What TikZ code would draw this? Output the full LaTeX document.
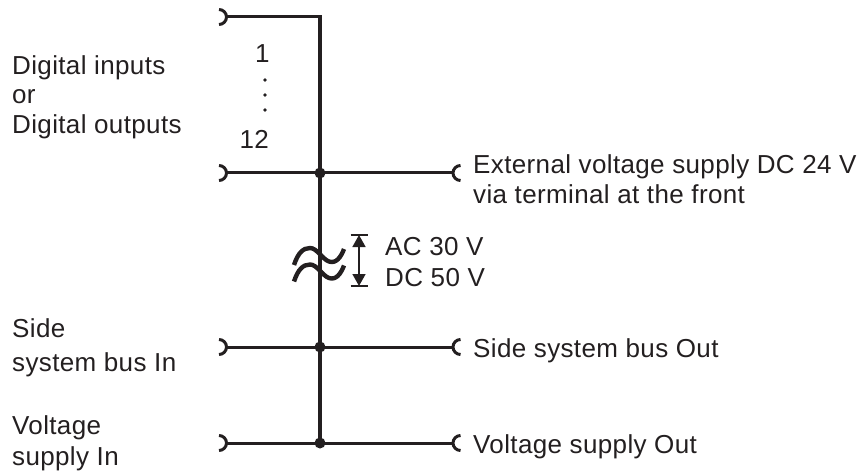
\documentclass[tikz,border=0pt]{standalone}
\usepackage{fontspec}
\setmainfont[LetterSpace=1.4]{Liberation Sans}
\usetikzlibrary{arrows.meta,calc}
\definecolor{ink}{HTML}{231F20}
\newcommand{\labfont}{\fontsize{26}{30}\selectfont}
\tikzset{
  wire/.style={line width=3pt, draw=ink, line join=miter},
  bus/.style={line width=3.6pt, draw=ink},
  sock/.style={line width=3pt, draw=ink},
  lab/.style={inner sep=0pt, anchor=base west, align=left, font=\labfont, text=ink},
  jdot/.style={circle, fill=ink, inner sep=0pt, minimum size=11pt},
  tilde/.style={line width=4.4pt, draw=ink, line cap=butt},
  dimline/.style={line width=1.6pt, draw=ink, -{Triangle[length=12pt,width=13pt]}},
  dimbar/.style={line width=2pt, draw=ink},
}
\begin{document}
\begin{tikzpicture}[x=1pt,y=-1pt]
\useasboundingbox (0,0) rectangle (861,473);
% bus coordinates
\coordinate (T)  at (320,17);
\coordinate (J1) at (320,173);
\coordinate (J2) at (320,347);
\coordinate (J3) at (320,443);
% left socket tips
\coordinate (L0) at (226.5,17);
\coordinate (L1) at (226.5,173);
\coordinate (L2) at (226.5,347);
\coordinate (L3) at (226.5,443);
% right socket tips
\coordinate (R1) at (453,173);
\coordinate (R2) at (453,347);
\coordinate (R3) at (453,443);

% wires
\draw[bus] (T) -- (J3);
\draw[wire] (L0) -- ($(T)+(1.8,0)$);
\draw[wire] (L1) -- (J1) -- (R1);
\draw[wire] (L2) -- (J2) -- (R2);
\draw[wire] (L3) -- (J3) -- (R3);

% sockets
\foreach \p in {L0,L1,L2,L3}
  \draw[sock] (\p) ++(-7.5,-7.5) arc[start angle=90,end angle=-90,radius=7.5pt];
\foreach \p in {R1,R2,R3}
  \draw[sock] (\p) ++(7.5,-7.5) arc[start angle=90,end angle=270,radius=7.5pt];

% junction dots
\node[jdot] (d1) at (J1) {};
\node[jdot] (d2) at (J2) {};
\node[jdot] (d3) at (J3) {};

% approx sign
\foreach \dy in {0,16.5}
  \draw[tilde] (294,265+\dy) .. controls (298,253+\dy) and (303,248+\dy) .. (310,248+\dy)
                             .. controls (317,248+\dy) and (322,259+\dy) .. (329,261.5+\dy)
                             .. controls (336,264+\dy) and (341,257+\dy) .. (344,249+\dy);

% dimension arrow
\coordinate (DT) at (359,235);
\coordinate (DB) at (359,286);
\coordinate (DM) at (359,260.5);
\draw[dimline] (DM) -- (DT);
\draw[dimline] (DM) -- (DB);
\draw[dimbar] ($(DT)+(-8.5,0)$) -- ($(DT)+(8.5,0)$);
\draw[dimbar] ($(DB)+(-8.5,0)$) -- ($(DB)+(8.5,0)$);

% channel numbering
\node[lab] (n1) at (255,63) {1};
\node[lab, anchor=base east] (n12) at (269,149) {12};
\foreach \yy in {80,95,110}
  \fill[ink] (265,\yy) circle (1.8pt);

% labels (base anchor = last line)
\node[lab] (dig) at (12,133.5) {Digital inputs\\[-0.5pt]or\\[-0.5pt]Digital outputs};
\node[lab] (sin) at (12,371) {Side\\[4pt]system bus In};
\node[lab] (vin) at (12,465) {Voltage\\[1pt]supply In};
\node[lab] (ext) at (473,204) {External voltage supply DC 24 V\\via terminal at the front};
\node[lab] (sout) at (473,357) {Side system bus Out};
\node[lab] (vout) at (473,453) {Voltage supply Out};
\node[lab] (acdc) at (385,286) {AC 30 V\\[1pt]DC 50 V};
\end{tikzpicture}
\end{document}
